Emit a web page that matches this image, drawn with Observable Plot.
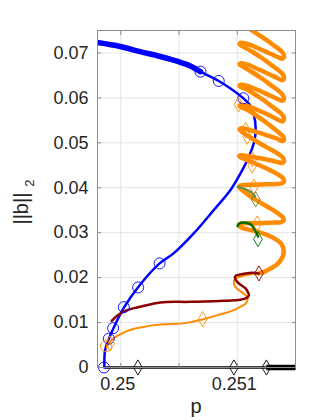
<!DOCTYPE html>
<html><head><meta charset="utf-8">
<script src="https://cdn.jsdelivr.net/npm/d3@7"></script>
<script src="https://cdn.jsdelivr.net/npm/@observablehq/plot@0.6"></script>
<style>body{margin:0;background:#fff;} svg{display:block;}</style>
</head><body><div id="chart"></div>
<script>
// ---- axes ----
const xTicks = [0.25, 0.2505, 0.251];
const xTickLabels = ["0.25", "", "0.251"];
const yTicks = [0, 0.01, 0.02, 0.03, 0.04, 0.05, 0.06, 0.07];
const yTickLabels = ["0", "0.01", "0.02", "0.03", "0.04", "0.05", "0.06", "0.07"];
const xLabel = "p";
const yLabel = "||b||";
const yLabelSub = "2";

// ---- blue branch ----
const blueStableP = [0.2498, 0.249994, 0.250166, 0.250339, 0.250497, 0.250597, 0.250684];
const blueStableB = [0.07232, 0.07145, 0.07029, 0.06922, 0.06806, 0.06711, 0.06584];
const blueUnstableP = [0.250684, 0.250770, 0.250841, 0.250942, 0.251052, 0.251115, 0.251143, 0.251158, 0.251149, 0.251100, 0.251028, 0.250942, 0.250798, 0.250626, 0.250453, 0.250333, 0.250147, 0.250028, 0.249936, 0.249893, 0.249865, 0.249859];
const blueUnstableB = [0.06584, 0.06472, 0.06377, 0.06209, 0.05991, 0.05820, 0.05619, 0.05323, 0.05062, 0.04690, 0.04321, 0.03949, 0.03503, 0.02984, 0.02539, 0.02316, 0.01782, 0.01336, 0.00869, 0.00608, 0.00385, 0];
const blueCircleP = [0.250684, 0.250841, 0.251052, 0.250333, 0.250149, 0.250026, 0.249934, 0.249897, 0.249856];
const blueCircleB = [0.06584, 0.06377, 0.05991, 0.02316, 0.01782, 0.01343, 0.00875, 0.00641, 0];

// ---- orange branch ----
const orangeLowP = [0.249878, 0.249899, 0.249922, 0.249959, 0.250009, 0.250063, 0.250123, 0.250209, 0.250281, 0.250425, 0.250569, 0.250701, 0.250828, 0.250908, 0.250971, 0.251028, 0.251072, 0.251089, 0.251086, 0.251050, 0.251014, 0.250981, 0.250971, 0.250972, 0.250985, 0.251028, 0.251086, 0.251136, 0.251186];
const orangeLowB = [0.00441, 0.00541, 0.00608, 0.00686, 0.00757, 0.00820, 0.00869, 0.00909, 0.00942, 0.00969, 0.00993, 0.01069, 0.01165, 0.01220, 0.01276, 0.01354, 0.01425, 0.01510, 0.01572, 0.01655, 0.01722, 0.01800, 0.01871, 0.01933, 0.01982, 0.02022, 0.02056, 0.02078, 0.02094];
const orangeSnakeP = [0.251186, 0.251235, 0.251287, 0.251339, 0.251373, 0.251392, 0.251398, 0.251392, 0.251373, 0.251322, 0.251259, 0.251172, 0.251097, 0.251046, 0.251020, 0.251016, 0.251033, 0.251115, 0.251218, 0.251322, 0.251378, 0.251398, 0.251396, 0.251375,
 0.251322, 0.251259, 0.251184, 0.251115, 0.251063, 0.251033, 0.251016, 0.251024, 0.251054, 0.251141, 0.251244, 0.251339, 0.251385, 0.251400, 0.251395, 0.251365,
 0.251304, 0.251244, 0.251175, 0.251115, 0.251063, 0.251028, 0.251016, 0.251028, 0.251097, 0.251184, 0.251270, 0.251347, 0.251385, 0.251400, 0.251396, 0.251372,
 0.251304, 0.251218, 0.251132, 0.251072, 0.251037, 0.251020, 0.251033, 0.251097, 0.251184, 0.251270, 0.251347, 0.251385, 0.251400, 0.251396, 0.251372,
 0.251304, 0.251218, 0.251132, 0.251072, 0.251037, 0.251020, 0.251033, 0.251097, 0.251184, 0.251270, 0.251347, 0.251385, 0.251400, 0.251396, 0.251372,
 0.251304, 0.251218, 0.251132, 0.251072, 0.251037, 0.251020, 0.251033, 0.251097, 0.251184, 0.251270, 0.251347, 0.251385, 0.251400, 0.251396, 0.251372,
 0.251304, 0.251218, 0.251132, 0.251072, 0.251037, 0.251020, 0.251033, 0.251097, 0.251184, 0.251270, 0.251347, 0.251385, 0.251400, 0.251396, 0.251372,
 0.251304, 0.251218, 0.251132, 0.251072, 0.251037, 0.251020, 0.251033, 0.251097, 0.251184, 0.251270, 0.251347, 0.251385, 0.251400, 0.251396, 0.251372,
 0.251304, 0.251218, 0.251132, 0.251072];
const orangeSnakeB = [0.02094, 0.02134, 0.02205, 0.02290, 0.02390, 0.02479, 0.02568, 0.02679, 0.02768, 0.02869, 0.02947, 0.03025, 0.03069, 0.03102, 0.03147, 0.03180, 0.03203, 0.03209, 0.03214, 0.03225, 0.03236, 0.03270, 0.03325, 0.03381,
 0.03481, 0.03577, 0.03693, 0.03804, 0.03904, 0.03971, 0.04016, 0.04049, 0.04060, 0.04067, 0.04076, 0.04082, 0.04100, 0.04138, 0.04205, 0.04272,
 0.04361, 0.04439, 0.04517, 0.04584, 0.04639, 0.04677, 0.04706, 0.04724, 0.04702, 0.04661, 0.04617, 0.04572, 0.04550, 0.04584, 0.04650, 0.04717,
 0.04829, 0.04951, 0.05085, 0.05185, 0.05252, 0.05296, 0.05323, 0.05290, 0.05229, 0.05156, 0.05085, 0.05040, 0.05062, 0.05129, 0.05196,
 0.05341, 0.05508, 0.05664, 0.05753, 0.05791, 0.05820, 0.05849, 0.05809, 0.05719, 0.05619, 0.05519, 0.05474, 0.05508, 0.05586, 0.05664,
 0.05797, 0.05964, 0.06109, 0.06198, 0.06238, 0.06265, 0.06294, 0.06258, 0.06169, 0.06065, 0.05976, 0.05936, 0.05964, 0.06042, 0.06120,
 0.06254, 0.06421, 0.06566, 0.06659, 0.06711, 0.06744, 0.06771, 0.06733, 0.06633, 0.06532, 0.06437, 0.06394, 0.06421, 0.06499, 0.06577,
 0.06711, 0.06877, 0.07022, 0.07111, 0.07163, 0.07201, 0.07227, 0.07194, 0.07100, 0.07000, 0.06911, 0.06871, 0.06900, 0.06978, 0.07056,
 0.07189, 0.07345, 0.07490, 0.07601];
const orangeDiamondP = [0.249908, 0.250703, 0.251011, 0.251072, 0.251086, 0.251129, 0.251129, 0.251143, 0.251171];
const orangeDiamondB = [0.00535, 0.01076, 0.05853, 0.05285, 0.05136, 0.04633, 0.04494, 0.04022, 0.03203];
const orangeCircleP = [0.249873];
const orangeCircleB = [0.00474];

// ---- dark red branch ----
const redP = [0.249922, 0.249968, 0.250022, 0.250097, 0.250166, 0.250339, 0.250597, 0.250884, 0.251028, 0.251076, 0.251100, 0.251089, 0.251072, 0.251033, 0.251000, 0.250979, 0.250990, 0.251028, 0.251129, 0.251186];
const redB = [0.01038, 0.01154, 0.01238, 0.01310, 0.01350, 0.01448, 0.01461, 0.01483, 0.01510, 0.01543, 0.01610, 0.01688, 0.01759, 0.01833, 0.01906, 0.02000, 0.02045, 0.02071, 0.02107, 0.02094];
const redDiamondP = [0.251186];
const redDiamondB = [0.02094];

// ---- green branches ----
const greenP = [0.251003, 0.251016, 0.251086, 0.251123, 0.251153, 0.251179];
const greenB = [0.03148, 0.03203, 0.03218, 0.03170, 0.03059, 0.02913];
const greenDiamondP = [0.251178];
const greenDiamondB = [0.02857];
const oliveP = [0.251005, 0.251046, 0.251086, 0.251123, 0.251153];
const oliveB = [0.04022, 0.03993, 0.03949, 0.03893, 0.03804];
const oliveDiamondP = [0.251158];
const oliveDiamondB = [0.03742];

// ---- trivial branch ----
const blackP = [0.249859, 0.2515];
const blackB = [0, 0];
const blackStableP = [0.25125, 0.2515];
const blackStableB = [0, 0];
const blackDiamondP = [0.250147, 0.250971, 0.25125];
const blackDiamondB = [0, 0, 0];

const pts = (P, B) => P.map((p, i) => ({p, b: B[i]}));
const line = (P, B, o) => Plot.line(pts(P, B), {x: "p", y: "b", curve: "catmull-rom", strokeLinejoin: "round", strokeLinecap: "round", ...o});
const dots = (P, B, o) => Plot.dot(pts(P, B), {x: "p", y: "b", fill: "none", strokeWidth: 0.9, ...o});

const axisColor = "#8c8c8c";
const textColor = "#262626";

const plot = Plot.plot({
  width: 327, height: 420,
  marginLeft: 97, marginRight: 32, marginTop: 30, marginBottom: 53,
  style: {fontFamily: "'Liberation Sans', Arial, sans-serif", fontSize: "18px", background: "#fff"},
  x: {domain: [0.2498, 0.2515]},
  y: {domain: [0, 0.075]},
  marks: [
    Plot.gridX(xTicks, {stroke: "#e4e4e4", strokeOpacity: 1}),
    Plot.gridY(yTicks, {stroke: "#e4e4e4", strokeOpacity: 1}),
    line(blackP, blackB, {stroke: "#000", strokeWidth: 2.5, curve: "linear", strokeLinecap: "butt"}),
    line(blackStableP, blackStableB, {stroke: "#000", strokeWidth: 5.5, curve: "linear", strokeLinecap: "butt"}),
    line(blueStableP, blueStableB, {stroke: "#0000ff", strokeWidth: 5.5, clip: true}),
    line(blueUnstableP, blueUnstableB, {stroke: "#0000ff", strokeWidth: 2.5}),
    line(orangeLowP, orangeLowB, {stroke: "#ff8c00", strokeWidth: 2}),
    line(orangeSnakeP, orangeSnakeB, {stroke: "#ff8c00", strokeWidth: 4.5, clip: true}),
    line(redP, redB, {stroke: "#8b0000", strokeWidth: 2.5}),
    line(greenP, greenB, {stroke: "#006e00", strokeWidth: 2.5}),
    line(oliveP, oliveB, {stroke: "#6a9045", strokeWidth: 2.5}),
    dots(blueCircleP, blueCircleB, {r: 5.5, stroke: "#0000ff"}),
    dots(orangeCircleP, orangeCircleB, {r: 5.5, stroke: "#ff8c00"}),
    dots(orangeDiamondP, orangeDiamondB, {symbol: "diamond", r: 4.6, stroke: "#ff8c00"}),
    dots(redDiamondP, redDiamondB, {symbol: "diamond", r: 4.6, stroke: "#8b0000"}),
    dots(greenDiamondP, greenDiamondB, {symbol: "diamond", r: 4.6, stroke: "#006e00"}),
    dots(oliveDiamondP, oliveDiamondB, {symbol: "diamond", r: 4.6, stroke: "#6a8030"}),
    dots(blackDiamondP, blackDiamondB, {symbol: "diamond", r: 4.6, stroke: "#000"}),
    Plot.frame({stroke: axisColor}),
    Plot.axisX(xTicks, {anchor: "bottom", tickSize: -4, stroke: axisColor, fill: "none", label: null}),
    Plot.axisX(xTicks, {anchor: "bottom", tickSize: 0, tickPadding: 10, fill: textColor, label: null, dx: -3,
      tickFormat: d => xTickLabels[xTicks.indexOf(d)]}),
    Plot.axisX(xTicks, {anchor: "top", tickSize: -4, stroke: axisColor, fill: "none", label: null}),
    Plot.axisY(yTicks, {anchor: "left", tickSize: -4, tickPadding: 13, stroke: axisColor, fill: textColor, label: null,
      tickFormat: d => yTickLabels[yTicks.indexOf(d)]}),
    Plot.axisY(yTicks, {anchor: "right", tickSize: -4, stroke: axisColor, fill: "none", label: null})
  ]
});

const svg = d3.select(plot);
svg.append("text")
  .attr("x", 196).attr("y", 413)
  .attr("text-anchor", "middle")
  .attr("fill", textColor)
  .style("font-size", "20px")
  .text(xLabel);
const yl = svg.append("text")
  .attr("transform", "translate(28,202) rotate(-90)")
  .attr("text-anchor", "middle")
  .attr("fill", textColor)
  .style("font-size", "20px");
yl.append("tspan").text(yLabel);
yl.append("tspan").attr("dx", 6).attr("dy", 6).style("font-size", "13px").text(yLabelSub);

document.getElementById("chart").appendChild(plot);
</script>
</body></html>
